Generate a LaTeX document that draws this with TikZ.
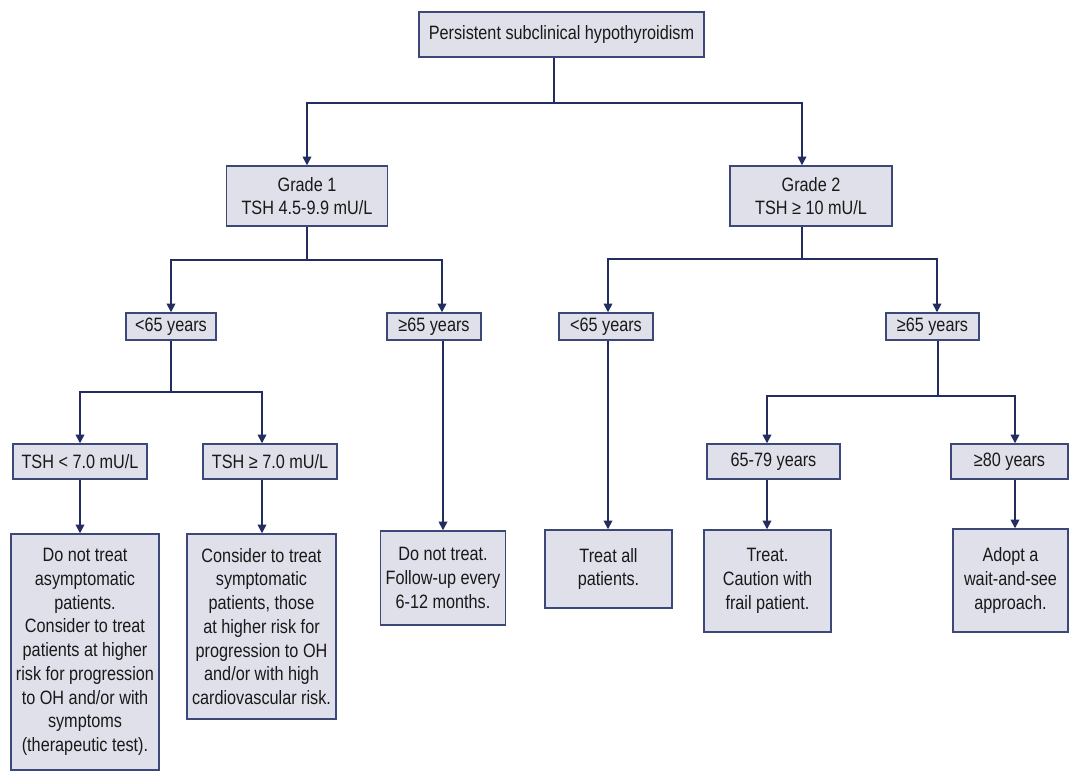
\documentclass[tikz,border=0pt]{standalone}
\usepackage{fontspec}
\setmainfont{Liberation Sans}[FakeStretch=0.84]
\usetikzlibrary{arrows.meta,calc}
\definecolor{boxfill}{RGB}{224,224,235}
\definecolor{boxline}{RGB}{60,72,120}
\definecolor{linecol}{RGB}{35,45,95}
\definecolor{txt}{RGB}{25,25,25}
\begin{document}
\begin{tikzpicture}[x=0.75pt,y=-0.75pt,
  box/.style={draw=boxline,fill=boxfill,line width=1.1pt,inner sep=1pt,align=center,text=txt,font=\fontsize{14.5}{17.8}\selectfont},
  link/.style={draw=linecol,line width=1.2pt},
  arr/.style={link,-{Triangle[width=6.5pt,length=6.5pt]}}]
\path[fill=white,use as bounding box] (0,0) rectangle (1072,772);

\node[box,minimum width=213.75pt,minimum height=33.75pt] (top) at (561.5,34.5) {Persistent subclinical hypothyroidism};
\node[box,minimum width=120.75pt,minimum height=45pt] (g1) at (307,196) {Grade 1\\TSH 4.5-9.9 mU/L};
\node[box,minimum width=121.5pt,minimum height=45pt] (g2) at (811,196) {Grade 2\\TSH ≥ 10 mU/L};
\node[box,minimum width=67.5pt,minimum height=20.25pt] (a1) at (171,326.5) {<65 years};
\node[box,minimum width=70.5pt,minimum height=20.25pt] (a2) at (434,326.5) {≥65 years};
\node[box,minimum width=70.5pt,minimum height=20.25pt] (a3) at (606,326.5) {<65 years};
\node[box,minimum width=69.75pt,minimum height=20.25pt] (a4) at (932.5,326.5) {≥65 years};
\node[box,minimum width=100.5pt,minimum height=26.25pt] (t1) at (80,461.5) {TSH < 7.0 mU/L};
\node[box,minimum width=100.5pt,minimum height=26.25pt] (t2) at (270,461.5) {TSH ≥ 7.0 mU/L};
\node[box,minimum width=99.75pt,minimum height=26.25pt] (t3) at (773.5,461.5) {65-79 years};
\node[box,minimum width=87.75pt,minimum height=26.25pt] (t4) at (1009.5,461.5) {≥80 years};
\node[box,minimum width=111pt,minimum height=177pt] (b1) at (85,652) {Do not treat\\asymptomatic\\patients.\\Consider to treat\\patients at higher\\risk for progression\\to OH and/or with\\symptoms\\(therapeutic test).};
\node[box,minimum width=111.75pt,minimum height=138.75pt] (b2) at (261.5,626.5) {Consider to treat\\symptomatic\\patients, those\\at higher risk for\\progression to OH\\and/or with high\\cardiovascular risk.};
\node[box,minimum width=93.75pt,minimum height=70.5pt] (b3) at (443,578) {Do not treat.\\Follow-up every\\6-12 months.};
\node[box,minimum width=95.25pt,minimum height=58.5pt] (b4) at (608.5,569) {Treat all\\patients.};
\node[box,minimum width=95.25pt,minimum height=76.5pt] (b5) at (767.5,581) {Treat.\\Caution with\\frail patient.};
\node[box,minimum width=86.25pt,minimum height=77.25pt] (b6) at (1010.5,580.5) {Adopt a\\wait-and-see\\approach.};

\coordinate (j0) at (554,103);
\draw[link] ($(top.south)+(-7.5,0)$) -- (j0);
\draw[arr] (j0) -| (g1.north);
\draw[arr] (j0) -| ($(g2.north)+(-9,0)$);

\coordinate (j1) at (307,260);
\draw[link] (g1.south) -- (j1);
\draw[arr] (j1) -| (a1.north);
\draw[arr] (j1) -| ($(a2.north)+(8,0)$);

\coordinate (j2) at (802,259);
\draw[link] ($(g2.south)+(-9,0)$) -- (j2);
\draw[arr] (j2) -| ($(a3.north)+(2,0)$);
\draw[arr] (j2) -| ($(a4.north)+(4.5,0)$);

\coordinate (j3) at (171,392);
\draw[link] (a1.south) -- (j3);
\draw[arr] (j3) -| (t1.north);
\draw[arr] (j3) -| ($(t2.north)+(-8,0)$);

\draw[arr] (b3.north |- a2.south) -- (b3.north);
\coordinate (s3) at ($(a3.south)+(2,0)$);
\draw[arr] (s3) -- (s3 |- b4.north);

\coordinate (j4) at (938,396);
\draw[link] ($(a4.south)+(5.5,0)$) -- (j4);
\draw[arr] (j4) -| ($(t3.north)+(-6.5,0)$);
\draw[arr] (j4) -| ($(t4.north)+(5.5,0)$);

\coordinate (u2) at ($(t2.south)+(-8,0)$);
\coordinate (u3) at ($(t3.south)+(-6.5,0)$);
\coordinate (u4) at ($(t4.south)+(5.5,0)$);
\draw[arr] (t1.south) -- (t1.south |- b1.north);
\draw[arr] (u2) -- (u2 |- b2.north);
\draw[arr] (u3) -- (u3 |- b5.north);
\draw[arr] (u4) -- (u4 |- b6.north);
\end{tikzpicture}
\end{document}
